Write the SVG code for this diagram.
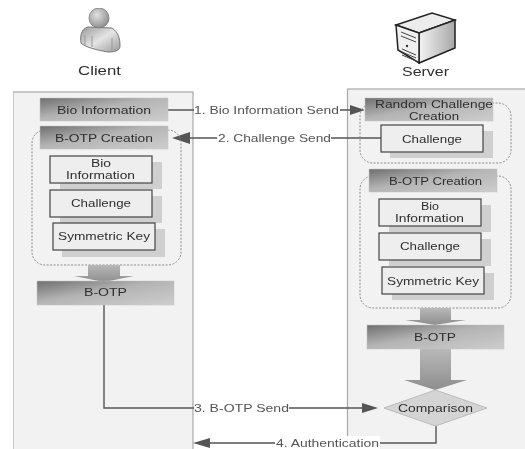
<svg xmlns="http://www.w3.org/2000/svg" width="525" height="449" viewBox="0 0 525 449">
<style>
text{font-family:"Liberation Sans",Arial,sans-serif;font-size:11px;fill:#2f2f2f}
.l{fill:#555}
.t{font-size:10px}
.p{fill:#f2f2f2;stroke:#a8a8a8;stroke-width:1.2}
.h{fill:url(#hg);stroke:#c4c4c4;stroke-width:.5}
.d{fill:none;stroke:#8a8a8a;stroke-width:1;stroke-dasharray:2 1.5}
.s{fill:#cfcfcf}
.b{fill:#eeeeee;stroke:#444;stroke-width:1.2}
.a{fill:url(#ag)}
.c{fill:none;stroke:#555;stroke-width:1.4}
.k{fill:#555}
</style>
<defs>
<linearGradient id="hg" x1="0" y1="0" x2="1" y2="1"><stop offset="0" stop-color="#6f6f6f"/><stop offset=".45" stop-color="#b4b4b4"/><stop offset="1" stop-color="#cdcdcd"/></linearGradient>
<linearGradient id="ag" x1="0" y1="0" x2="0" y2="1"><stop offset="0" stop-color="#b8b8b8"/><stop offset="1" stop-color="#8e8e8e"/></linearGradient>
<linearGradient id="bd" x1="0" y1="0" x2="1" y2="1"><stop offset="0" stop-color="#999"/><stop offset=".5" stop-color="#e4e4e4"/><stop offset="1" stop-color="#9a9a9a"/></linearGradient>
<linearGradient id="sv" x1="0" y1="0" x2="1" y2="0"><stop offset="0" stop-color="#f2f2f2"/><stop offset="1" stop-color="#a8a8a8"/></linearGradient>
<radialGradient id="hd" cx=".4" cy=".35" r=".7"><stop offset="0" stop-color="#e2e2e2"/><stop offset="1" stop-color="#8a8a8a"/></radialGradient>
<filter id="soft" x="0" y="0" width="1" height="1" filterUnits="objectBoundingBox"><feGaussianBlur stdDeviation=".35"/></filter>
</defs>
<rect width="525" height="449" fill="#fff"/>
<g filter="url(#soft)">
<g id="client-icon">
<path d="M88 27C81 29 80 36 81 43C85 47 96 50 108 52C116 52 120 50 120 46C120 38 118 32 112 28Z" fill="url(#bd)" stroke="#777" stroke-width="1"/>
<path d="M85 35V45M92 36V47M112 38V50" stroke="#999" fill="none"/>
<circle cx="99" cy="18" r="10" fill="url(#hd)" stroke="#777" stroke-width=".8"/>
<text x="78" y="75" textLength="43" lengthAdjust="spacingAndGlyphs" style="font-size:13px">Client</text>
</g>
<g id="server-icon">
<path d="M396 25L432 13L455 20L419 33Z" fill="#ececec" stroke="#222" stroke-width="1.500"/>
<path d="M419 33L455 20V48L419 63Z" fill="url(#sv)" stroke="#222" stroke-width="1.500"/>
<path d="M396 25L419 33V63L398 50Z" fill="#f0f0f0" stroke="#222" stroke-width="1.500"/>
<path d="M401 32L416 38M401 36L416 42M402 49L416 55M402 52L416 58M402 55L416 61" stroke="#444" stroke-width="1" fill="none"/>
<circle cx="407" cy="46" r="1.200" fill="#333"/>
<text x="402" y="76" textLength="47" lengthAdjust="spacingAndGlyphs" style="font-size:13px">Server</text>
</g>
<rect class="p" x="13" y="92" width="180" height="360"/>
<rect class="p" x="347.500" y="89" width="180" height="363"/>
<g id="connectors">
<path class="c" d="M168 110H194M340 110H352"/><path class="k" d="M365 110L350 105V115Z"/>
<path class="c" d="M381 138H331M217 138H188"/><path class="k" d="M172 138L190 132V144Z"/>
<path class="c" d="M104 305V408H194M289 408H365"/><path class="k" d="M378 408L362 403V413Z"/>
<path class="c" d="M436 426V443H380M275 443H205"/><path class="k" d="M193 443L210 438V448Z"/>
</g>
<g id="client-bio"><rect class="h" x="40" y="98" width="128" height="23"/><text x="57" y="114" textLength="94" lengthAdjust="spacingAndGlyphs">Bio Information</text></g>
<g id="client-creation">
<rect class="d" x="32" y="130" width="149" height="135" rx="13"/>
<rect class="h" x="40" y="126" width="128" height="23"/><text x="55" y="142" textLength="98" lengthAdjust="spacingAndGlyphs">B-OTP Creation</text>
</g>
<g id="client-bio-input"><rect class="s" x="60" y="162" width="102" height="27"/><rect class="b" x="50" y="156" width="102" height="27"/><text class="t" x="91" y="167" textLength="20" lengthAdjust="spacingAndGlyphs">Bio</text><text class="t" x="66" y="178.500" textLength="69" lengthAdjust="spacingAndGlyphs">Information</text></g>
<g id="client-challenge"><rect class="s" x="60" y="196" width="102" height="27"/><rect class="b" x="50" y="190" width="102" height="27"/><text x="71" y="207" textLength="60" lengthAdjust="spacingAndGlyphs">Challenge</text></g>
<g id="client-key"><rect class="s" x="62" y="229" width="103" height="28"/><rect class="b" x="53" y="223" width="102" height="27"/><text x="58" y="240" textLength="92" lengthAdjust="spacingAndGlyphs">Symmetric Key</text></g>
<path id="client-arrow" class="a" d="M88 265H120V276L134 276L104 282L74 276L88 276Z"/>
<g id="client-otp"><rect class="h" x="37" y="281" width="137" height="24"/><text x="84" y="296" textLength="43" lengthAdjust="spacingAndGlyphs">B-OTP</text></g>
<g id="server-random">
<rect class="d" x="360" y="103" width="151" height="60" rx="13"/>
<rect class="h" x="365" y="98" width="128" height="23"/><text class="t" x="375" y="108" textLength="118" lengthAdjust="spacingAndGlyphs">Random Challenge</text><text class="t" x="409" y="119.500" textLength="50" lengthAdjust="spacingAndGlyphs">Creation</text>
</g>
<g id="server-challenge"><rect class="s" x="390" y="131" width="103" height="27"/><rect class="b" x="381" y="125" width="102" height="27"/><text x="402" y="143" textLength="60" lengthAdjust="spacingAndGlyphs">Challenge</text></g>
<g id="server-creation">
<rect class="d" x="360" y="176" width="151" height="132" rx="13"/>
<rect class="h" x="369" y="169" width="128" height="23"/><text x="389" y="185" textLength="93" lengthAdjust="spacingAndGlyphs">B-OTP Creation</text>
</g>
<g id="server-bio-input"><rect class="s" x="389" y="205" width="102" height="27"/><rect class="b" x="379" y="199" width="102" height="27"/><text class="t" x="421" y="210" textLength="18" lengthAdjust="spacingAndGlyphs">Bio</text><text class="t" x="395" y="221.500" textLength="69" lengthAdjust="spacingAndGlyphs">Information</text></g>
<g id="server-challenge-input"><rect class="s" x="389" y="239" width="102" height="27"/><rect class="b" x="379" y="233" width="102" height="27"/><text x="400" y="250" textLength="60" lengthAdjust="spacingAndGlyphs">Challenge</text></g>
<g id="server-key"><rect class="s" x="392" y="273" width="102" height="27"/><rect class="b" x="382" y="267" width="102" height="27"/><text x="387" y="285" textLength="92" lengthAdjust="spacingAndGlyphs">Symmetric Key</text></g>
<path id="server-arrow-1" class="a" d="M420 308H451V320L466 320L435 325L405 320L420 320Z"/>
<g id="server-otp"><rect class="h" x="367" y="325" width="137" height="24"/><text x="414" y="341" textLength="42" lengthAdjust="spacingAndGlyphs">B-OTP</text></g>
<path id="server-arrow-2" class="a" d="M420 349H451V380L467 380L435 390L404 380L420 380Z"/>
<g id="comparison"><path d="M435.500 390L487 408L435.500 426L384 408Z" fill="#d4d4d4" stroke="#bbb"/><text x="398" y="412" textLength="75" lengthAdjust="spacingAndGlyphs">Comparison</text></g>
<g id="labels">
<text class="l" x="194" y="114" textLength="145" lengthAdjust="spacingAndGlyphs">1. Bio Information Send</text>
<text class="l" x="218" y="142" textLength="113" lengthAdjust="spacingAndGlyphs">2. Challenge Send</text>
<text class="l" x="194" y="412" textLength="95" lengthAdjust="spacingAndGlyphs">3. B-OTP Send</text>
<rect x="275" y="436" width="105" height="13" fill="#fff"/>
<text class="l" x="276" y="447" textLength="103" lengthAdjust="spacingAndGlyphs">4. Authentication</text>
</g>
</g>
</svg>
